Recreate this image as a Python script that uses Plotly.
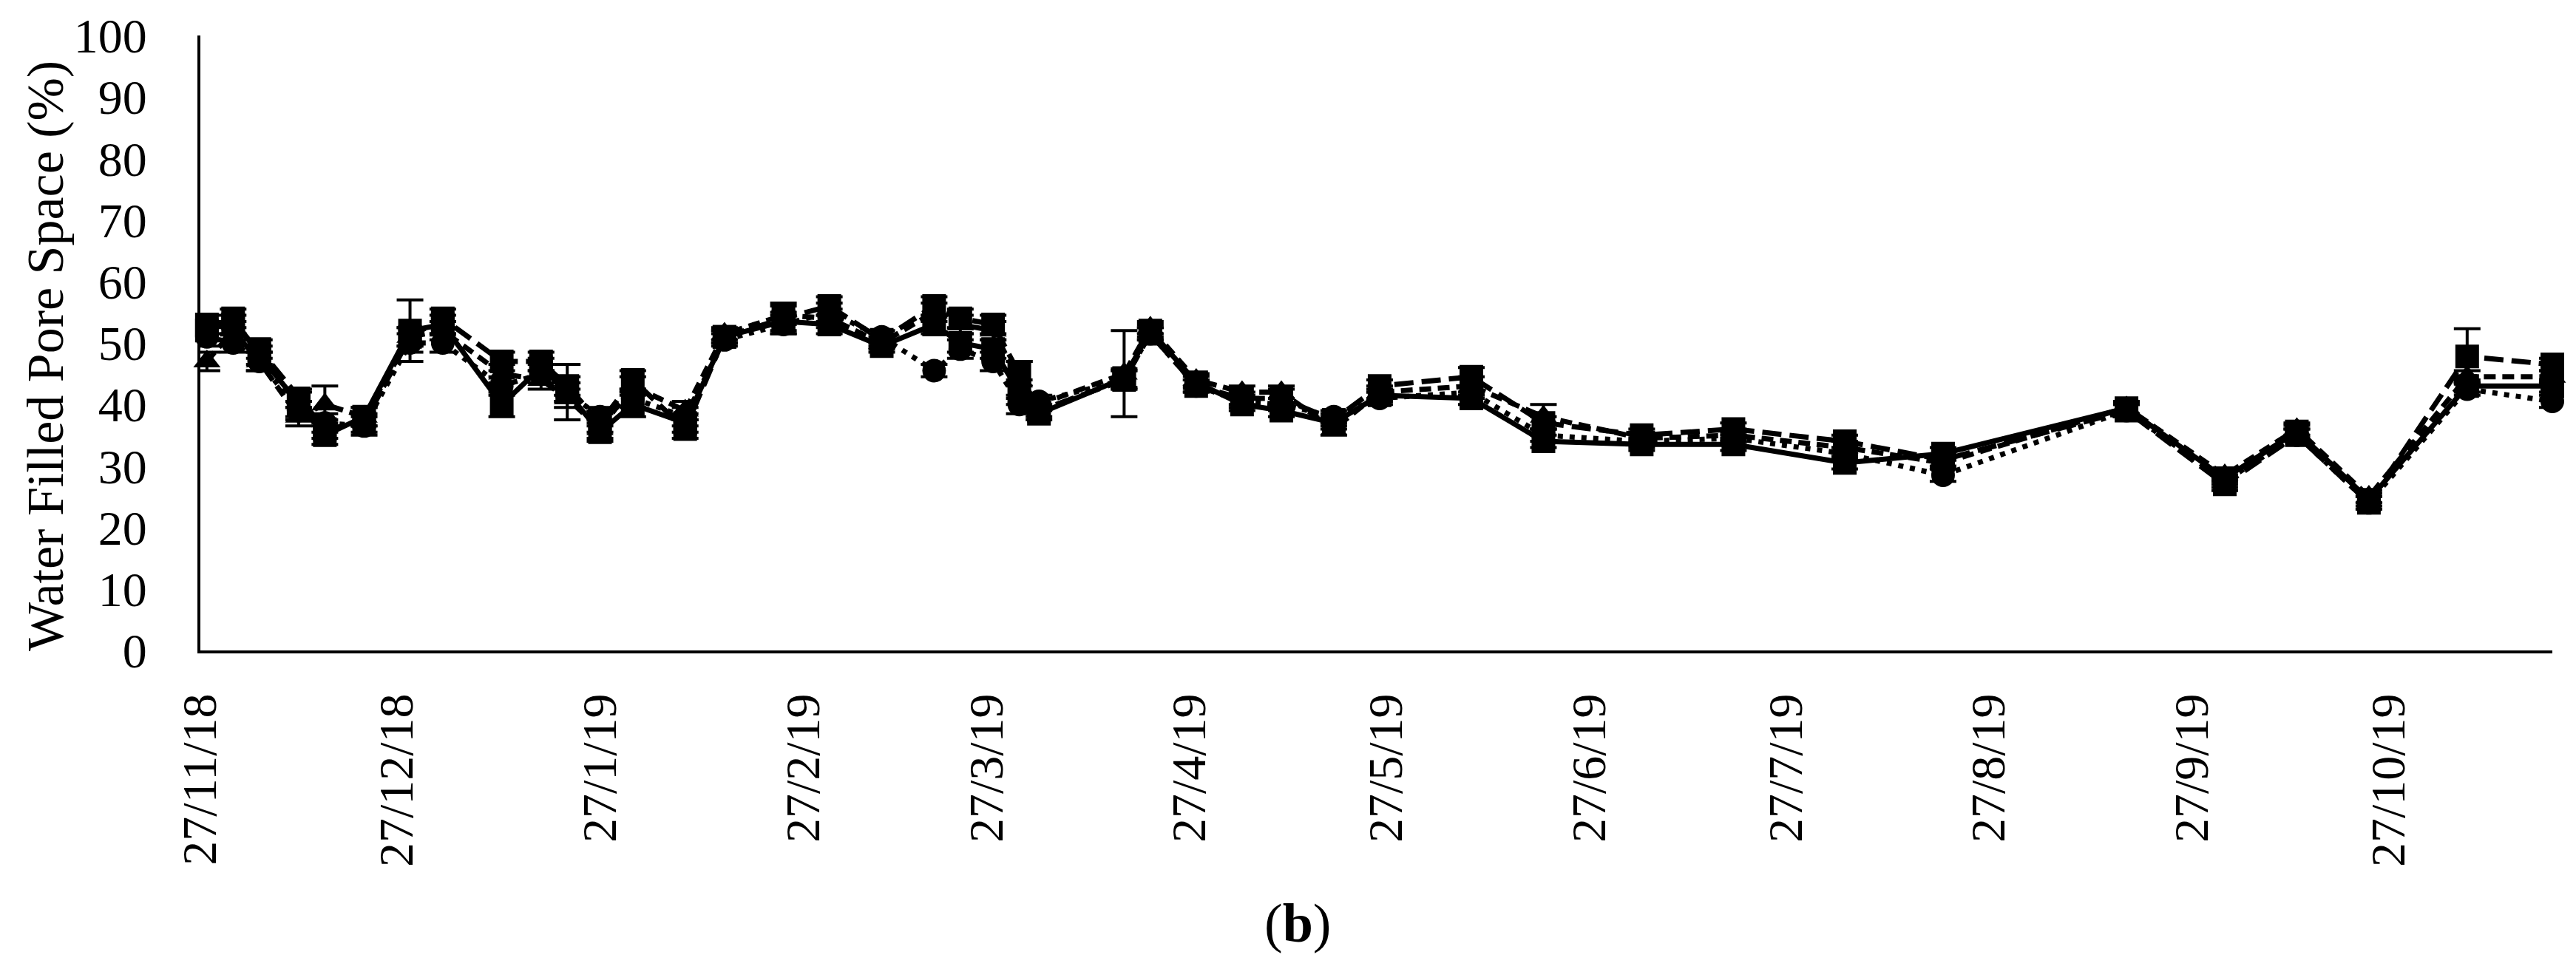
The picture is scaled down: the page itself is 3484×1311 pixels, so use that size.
import plotly.graph_objects as go

# ---- data ----
dates = ["2018-11-28", "2018-12-02", "2018-12-06", "2018-12-12", "2018-12-16", "2018-12-22",
         "2018-12-29", "2019-01-03", "2019-01-12", "2019-01-18", "2019-01-22", "2019-01-27",
         "2019-02-01", "2019-02-09", "2019-02-15", "2019-02-24", "2019-03-03", "2019-03-11",
         "2019-03-19", "2019-03-23", "2019-03-28", "2019-04-01", "2019-04-04", "2019-04-17",
         "2019-04-21", "2019-04-28", "2019-05-05", "2019-05-11", "2019-05-19", "2019-05-26",
         "2019-06-09", "2019-06-20", "2019-07-05", "2019-07-19", "2019-08-05", "2019-08-20",
         "2019-09-17", "2019-10-02", "2019-10-13", "2019-10-24", "2019-11-08", "2019-11-21"]

solid_vals = [52, 54, 48, 40, 35, 38, 52, 53, 40, 46, 42, 35.5, 40, 37, 51, 53.5, 53, 49.5, 53, 50, 49,
              42, 38.5, 44.3, 52, 43.6, 40, 39, 37, 41.5, 41, 34, 33.5, 33.5, 30.5, 32, 39.4, 28, 35.6,
              24.5, 43, 43]
longdash_vals = [53, 53, 49, 41, 36, 37, 51, 54, 47, 47, 43, 37, 44, 36, 51, 54, 56, 50.5, 56, 54, 53,
                 45, 39, 44, 51.5, 43, 41, 41, 37.5, 43, 44.5, 37, 35, 36, 34, 31, 39, 27, 35, 24, 47.8,
                 46.5]
shortdash_vals = [47, 52, 47, 38, 40, 38, 51, 52, 45, 44, 41, 36, 43, 39, 51.5, 54.5, 54, 50, 55, 53, 52,
                  44, 40, 45, 52.5, 44, 42, 42, 36, 42, 43, 38, 34.5, 35, 33, 30.5, 39.5, 28.5, 36, 25,
                  44.5, 44.5]
dotted_vals = [51, 50, 47, 39, 37, 36.5, 50, 50, 43, 45, 42, 38, 41, 38, 50.5, 53, 55, 51, 45.5, 49, 47,
               40, 40.5, 44, 51.5, 43, 40.5, 40, 38, 41, 42, 35, 34, 34.5, 32, 28.5, 39, 27.5, 35, 24,
               42.5, 40.5]

solid_err = [1.5, 1.5, 1.5, 2, 1.5, 1.5, 5, 1.5, 2, 1.5, 4.5, 1.5, 2, 1.5, 1, 1.5, 1.5, 1, 1.5, 1.5, 1.5,
             2, 1, 1.5, 1, 1, 1, 1, 1, 1, 1, 1, 1, 1, 1, 1, 1, 1, 1, 1, 1, 1]
longdash_err = [1.5, 1.5, 1.5, 1.5, 1.5, 1.5, 1.5, 1.5, 1.5, 1.5, 1.5, 1.5, 1.5, 1.5, 1, 2.5, 1.5, 1, 1.5,
                1.5, 1.5, 2, 1, 1.5, 1, 1, 1, 1.5, 1, 1, 1.5, 1, 1, 1, 1, 1, 1, 1, 1, 1, 4.5, 1]
shortdash_err = [1.5, 1.5, 1.5, 1.5, 3, 1.5, 1.5, 1.5, 1.5, 1.5, 1.5, 1.5, 1.5, 1.5, 1, 1.5, 1.5, 1, 1.5,
                 1.5, 1.5, 3, 1, 7, 1, 1, 1, 1, 1, 1, 1.5, 2, 1, 1, 1, 1, 1, 1, 1, 1, 1, 1]
dotted_err = [1.5, 1.5, 1.5, 1.5, 1.5, 1.5, 1.5, 1.5, 1.5, 1.5, 1.5, 1.5, 1.5, 1.5, 1, 1.5, 1.5, 1, 1,
              1.5, 1.5, 1.5, 1, 1.5, 1, 1, 1, 1, 1, 1, 1, 1, 1, 1, 1, 1, 1, 1, 1, 1, 1, 1]

tick_dates = ["2018-11-27", "2018-12-27", "2019-01-27", "2019-02-27", "2019-03-27", "2019-04-27",
              "2019-05-27", "2019-06-27", "2019-07-27", "2019-08-27", "2019-09-27", "2019-10-27"]
tick_labels = ["27/11/18", "27/12/18", "27/1/19", "27/2/19", "27/3/19", "27/4/19",
               "27/5/19", "27/6/19", "27/7/19", "27/8/19", "27/9/19", "27/10/19"]

x_range = ["2018-11-27", "2019-11-21"]
y_title = "Water Filled Pore Space (%)"
caption = "(<b>b</b>)"

FONT = "Liberation Serif"
W, H = 3484, 1311
L, R, T, B = 271, 32, 46, 431

series = [
    (dotted_vals, dotted_err, "7px,9px", "circle"),
    (shortdash_vals, shortdash_err, "16px,9px", "triangle-up"),
    (longdash_vals, longdash_err, "26px,11px", "square"),
    (solid_vals, solid_err, "solid", "square"),
]

fig = go.Figure()
for vals, err, dash, sym in series:
    fig.add_trace(go.Scatter(
        x=dates, y=vals, mode="lines+markers",
        line=dict(color="black", width=7, dash=dash),
        marker=dict(symbol=sym, size=32, color="black", line=dict(width=0)),
        error_y=dict(type="data", array=err, visible=True, color="black",
                     thickness=4, width=18),
        cliponaxis=False, showlegend=False,
    ))

fig.update_layout(
    width=W, height=H,
    margin=dict(l=L, r=R, t=T, b=B),
    paper_bgcolor="white", plot_bgcolor="white",
    font=dict(family=FONT, size=66, color="black"),
    showlegend=False,
)
fig.update_xaxes(
    type="date", range=x_range,
    tickvals=tick_dates, ticktext=tick_labels, tickangle=-90,
    showgrid=False, zeroline=False, showline=True, linecolor="black", linewidth=4,
    ticks="", ticklabelstandoff=28,
    tickfont=dict(family=FONT, size=66, color="black"),
)
fig.update_yaxes(
    range=[0, 100], dtick=10, tick0=0,
    showgrid=False, zeroline=False, showline=True, linecolor="black", linewidth=4,
    ticks="", ticklabelstandoff=55,
    tickfont=dict(family=FONT, size=66, color="black"),
)

plot_w = W - L - R
plot_h = H - T - B
fig.add_annotation(
    text=y_title, xref="paper", yref="paper",
    x=(62 - L) / plot_w, y=(H - B - 481) / plot_h, textangle=-90,
    showarrow=False, xanchor="center", yanchor="middle",
    font=dict(family=FONT, size=70, color="black"),
)
fig.add_annotation(
    text=caption, xref="paper", yref="paper",
    x=(1755 - L) / plot_w, y=(H - B - 1250) / plot_h,
    showarrow=False, xanchor="center", yanchor="middle",
    font=dict(family=FONT, size=74, color="black"),
)

fig.write_html("out.html", config={"displayModeBar": False},
               post_script="document.body.style.margin='0';")
